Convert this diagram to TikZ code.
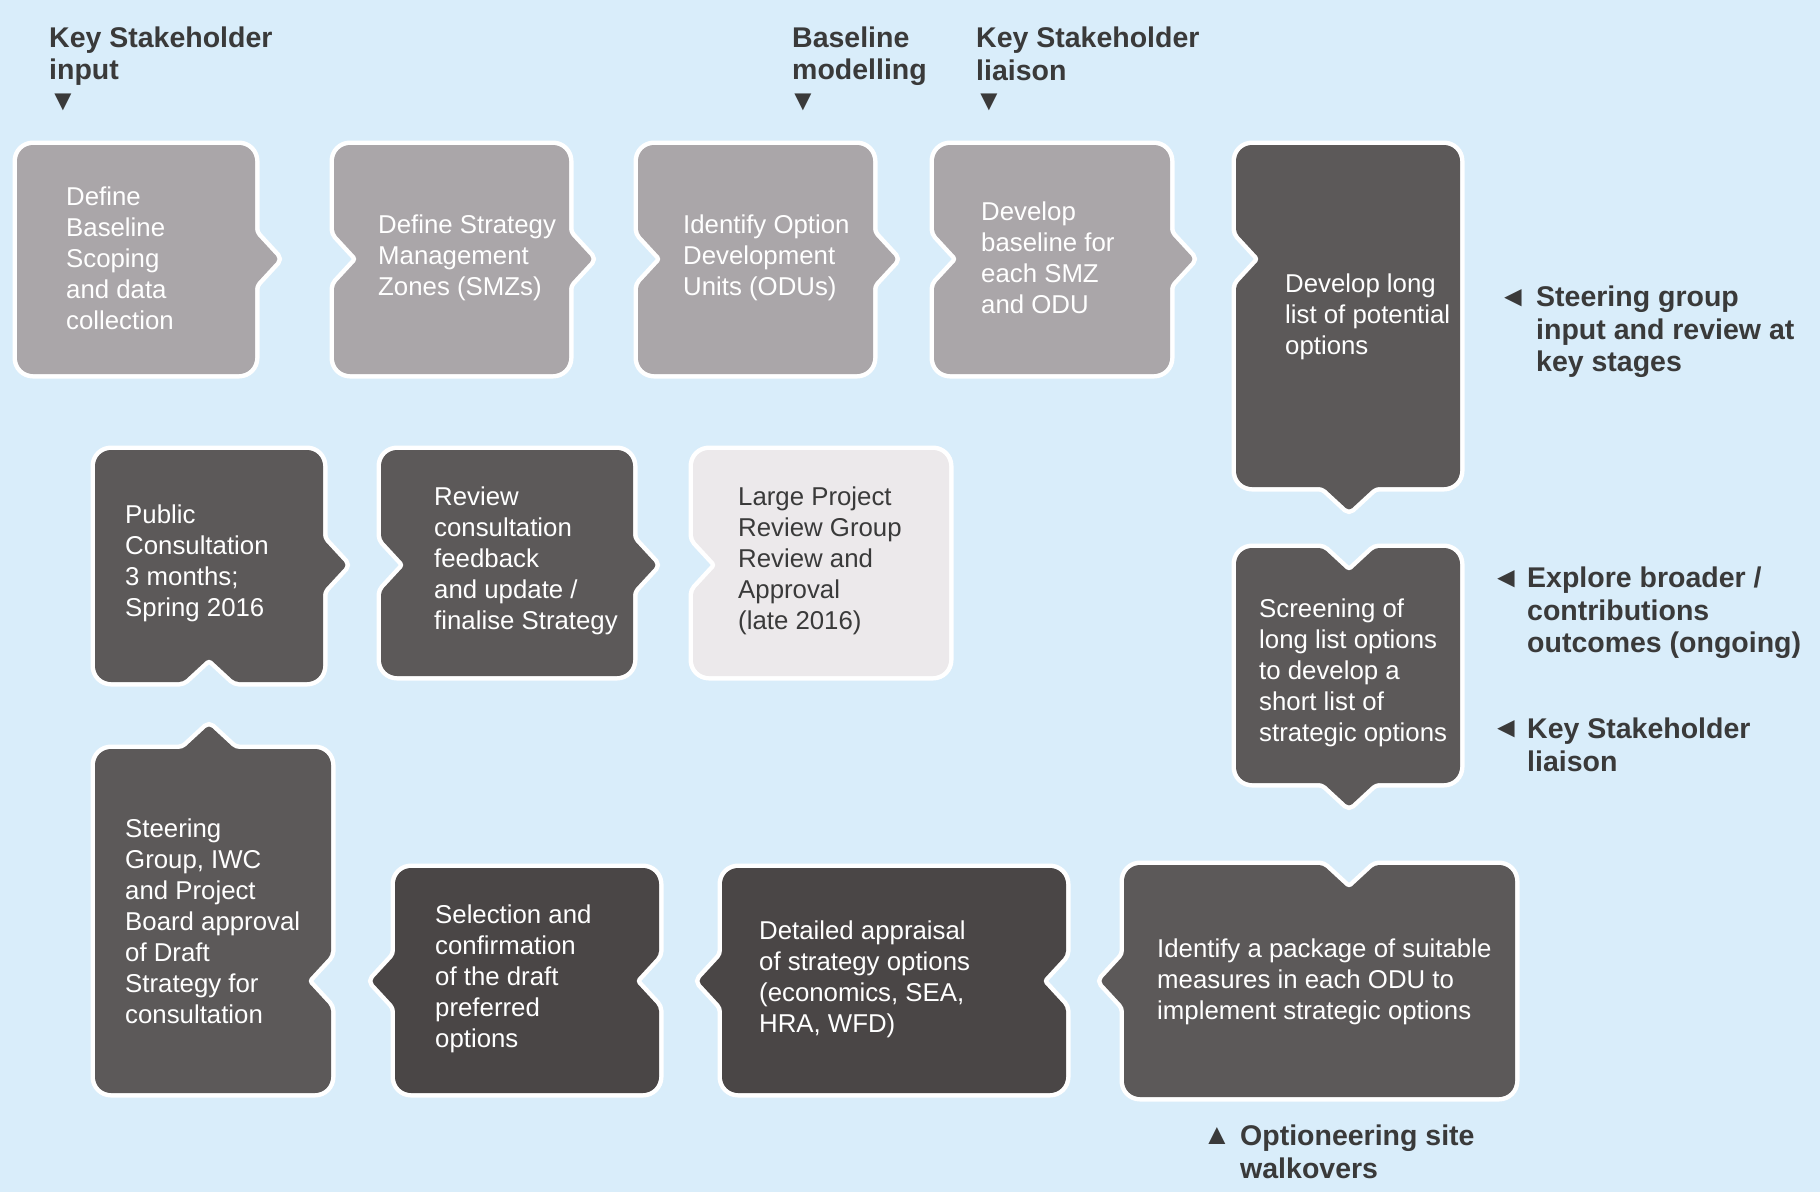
\documentclass[tikz,border=0pt]{standalone}
\usepackage{fontspec}
\setmainfont{Liberation Sans}
\usepackage{tikz}

\definecolor{bgblue}{RGB}{217,237,250}
\definecolor{lightbox}{RGB}{170,166,169}
\definecolor{darkbox}{RGB}{92,89,89}
\definecolor{deepbox}{RGB}{74,70,70}
\definecolor{paperbox}{RGB}{236,233,235}
\definecolor{labelgrey}{RGB}{58,58,58}

\tikzset{
  piece/.style={fill=#1, rounded corners=16pt,
    preaction={draw=white, line width=9pt}},
  boxtext/.style={anchor=west, align=left, inner sep=0pt, text=white,
    font=\fontsize{25.8pt}{31pt}\selectfont},
  cue/.style={anchor=west, align=left, inner sep=0pt, text=labelgrey,
    font=\bfseries\fontsize{28.5pt}{32.5pt}\selectfont},
  cuetri/.style={inner sep=0pt, text=labelgrey,
    font=\fontsize{29pt}{29pt}\selectfont}
}

% tabs and notches, coordinates in pixels
% right side, top to bottom
\newcommand\rtab[2]{-- (#1,#2-46) [rounded corners=4pt] -- (#1,#2-26) -- (#1+24,#2) -- (#1,#2+26) -- (#1,#2+46) [rounded corners=16pt]}
\newcommand\rnotch[2]{-- (#1,#2-46) [rounded corners=4pt] -- (#1,#2-26) -- (#1-24,#2) -- (#1,#2+26) -- (#1,#2+46) [rounded corners=16pt]}
% left side, bottom to top
\newcommand\ltab[2]{-- (#1,#2+46) [rounded corners=4pt] -- (#1,#2+26) -- (#1-24,#2) -- (#1,#2-26) -- (#1,#2-46) [rounded corners=16pt]}
\newcommand\lnotch[2]{-- (#1,#2+46) [rounded corners=4pt] -- (#1,#2+26) -- (#1+24,#2) -- (#1,#2-26) -- (#1,#2-46) [rounded corners=16pt]}
% top side, left to right
\newcommand\ttab[2]{-- (#1-46,#2) [rounded corners=4pt] -- (#1-26,#2) -- (#1,#2-24) -- (#1+26,#2) -- (#1+46,#2) [rounded corners=16pt]}
\newcommand\tnotch[2]{-- (#1-46,#2) [rounded corners=4pt] -- (#1-26,#2) -- (#1,#2+24) -- (#1+26,#2) -- (#1+46,#2) [rounded corners=16pt]}
% bottom side, right to left
\newcommand\btab[2]{-- (#1+46,#2) [rounded corners=4pt] -- (#1+26,#2) -- (#1,#2+24) -- (#1-26,#2) -- (#1-46,#2) [rounded corners=16pt]}
\newcommand\bnotch[2]{-- (#1+46,#2) [rounded corners=4pt] -- (#1+26,#2) -- (#1,#2-24) -- (#1-26,#2) -- (#1-46,#2) [rounded corners=16pt]}

\begin{document}
\begin{tikzpicture}[x=1pt, y=-1pt]
        \useasboundingbox (0,0) rectangle (1820,1192);
        \fill[bgblue] (0,0) rectangle (1820,1192);

        % top row
        \path[piece=lightbox] (47,145) -- (255,145) \rtab{255}{259} -- (255,374) -- (17,374) -- (17,145) -- cycle;
        \path[piece=lightbox] (364,145) -- (569,145) \rtab{569}{259} -- (569,374) -- (334,374) \lnotch{334}{259} -- (334,145) -- cycle;
        \path[piece=lightbox] (668,145) -- (873,145) \rtab{873}{259} -- (873,374) -- (638,374) \lnotch{638}{259} -- (638,145) -- cycle;
        \path[piece=lightbox] (964,145) -- (1170,145) \rtab{1170}{259} -- (1170,374) -- (934,374) \lnotch{934}{259} -- (934,145) -- cycle;

        % right column
        \path[piece=darkbox] (1266,145) -- (1460,145) -- (1460,487) \btab{1349}{487} -- (1236,487) \lnotch{1236}{259} -- (1236,145) -- cycle;
        \path[piece=darkbox] (1266,548) \tnotch{1349}{548} -- (1460,548) -- (1460,783) \btab{1349}{783} -- (1236,783) -- (1236,548) -- cycle;

        % bottom row
        \path[piece=darkbox] (1154,865) \tnotch{1349}{865} -- (1515,865) -- (1515,1097) -- (1124,1097) \ltab{1124}{981} -- (1124,865) -- cycle;
        \path[piece=deepbox] (752,868) -- (1066,868) \rnotch{1066}{981} -- (1066,1093) -- (722,1093) \ltab{722}{981} -- (722,868) -- cycle;
        \path[piece=deepbox] (425,868) -- (659,868) \rnotch{659}{981} -- (659,1093) -- (395,1093) \ltab{395}{981} -- (395,868) -- cycle;
        \path[piece=darkbox] (125,749) \ttab{209}{749} -- (331,749) \rnotch{331}{981} -- (331,1093) -- (95,1093) -- (95,749) -- cycle;

        % middle row
        \path[piece=darkbox] (125,450) -- (323,450) \rtab{323}{565} -- (323,682) \bnotch{209}{682} -- (95,682) -- (95,450) -- cycle;
        \path[piece=darkbox] (411,450) -- (633,450) \rtab{633}{565} -- (633,676) -- (381,676) \lnotch{381}{565} -- (381,450) -- cycle;
        \path[piece=paperbox] (723,450) -- (949,450) -- (949,676) -- (693,676) \lnotch{693}{565} -- (693,450) -- cycle;

        \node[boxtext] (t-scope) at (66,258) {Define\\Baseline\\Scoping\\and data\\collection};
        \node[boxtext] (t-smz) at (378,258) {Define Strategy\\Management\\Zones (SMZs)};
        \node[boxtext] (t-odu) at (683,258) {Identify Option\\Development\\Units (ODUs)};
        \node[boxtext] (t-base) at (981,258) {Develop\\baseline for\\each SMZ\\and ODU};
        \node[boxtext] (t-long) at (1285,317) {Develop long\\list of potential\\options};
        \node[boxtext] (t-screen) at (1259,673) {Screening of\\long list options\\to develop a\\short list of\\strategic options};
        \node[boxtext] (t-pkg) at (1157,982) {Identify a package of suitable\\measures in each ODU to\\implement strategic options};
        \node[boxtext] (t-appr) at (759,979) {Detailed appraisal\\of strategy options\\(economics, SEA,\\HRA, WFD)};
        \node[boxtext] (t-sel) at (435,979) {Selection and\\confirmation\\of the draft\\preferred\\options};
        \node[boxtext] (t-draft) at (125,921) {Steering\\Group, IWC\\and Project\\Board approval\\of Draft\\Strategy for\\consultation};
        \node[boxtext] (t-pub) at (125,563) {Public\\Consultation\\3 months;\\Spring 2016};
        \node[boxtext] (t-rev) at (434,561) {Review\\consultation\\feedback\\and update /\\finalise Strategy};
        \node[boxtext, text=labelgrey] (t-lpr) at (738,561) {Large Project\\Review Group\\Review and\\Approval\\(late 2016)};

        % stakeholder cues
        \node[cue] (c-input) at (49,56) {Key Stakeholder\\input};
        \node[cuetri] (m-input) at (63,102) {▼};
        \node[cue] (c-model) at (792,56) {Baseline\\modelling};
        \node[cuetri] (m-model) at (803,102) {▼};
        \node[cue] (c-liaison) at (976,54) {Key Stakeholder\\liaison};
        \node[cuetri] (m-liaison) at (989,102) {▼};
        \node[cuetri] (m-steer) at (1513,298) {◄};
        \node[cue] (c-steer) at (1536,332) {Steering group\\input and review at\\key stages};
        \node[cuetri] (m-explore) at (1506,579) {◄};
        \node[cue] (c-explore) at (1527,613) {Explore broader /\\contributions\\outcomes (ongoing)};
        \node[cuetri] (m-keyside) at (1506,729) {◄};
        \node[cue] (c-keyside) at (1527,745) {Key Stakeholder\\liaison};
        \node[cuetri] (m-walk) at (1217,1136) {▲};
        \node[cue] (c-walk) at (1240,1152) {Optioneering site\\walkovers};
\end{tikzpicture}
\end{document}
